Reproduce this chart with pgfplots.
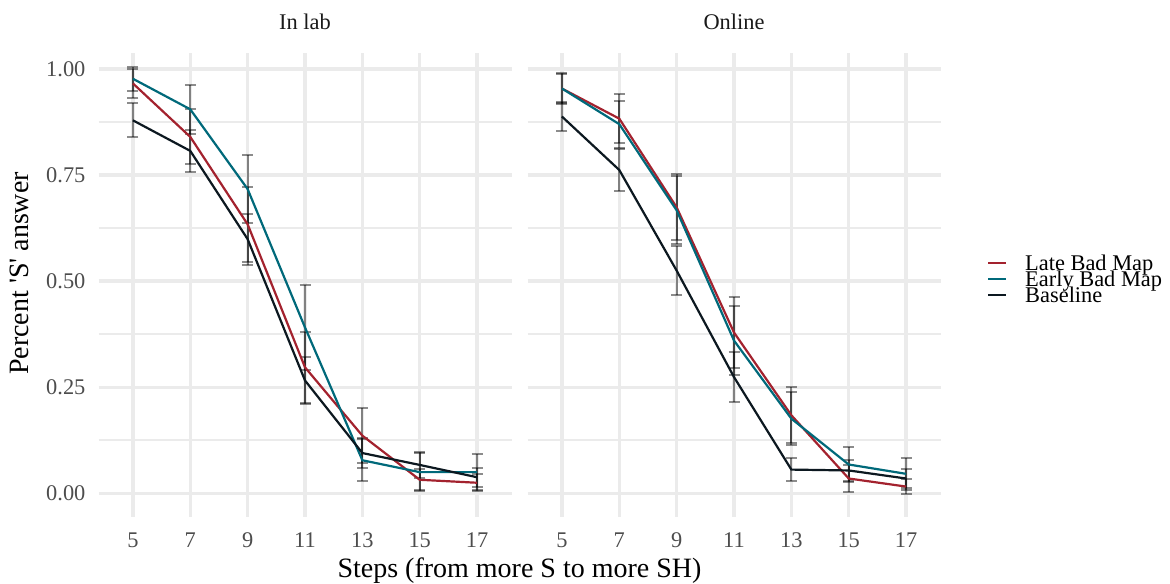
\documentclass[border=0pt]{standalone}
\usepackage{pgfplots}
\pgfplotsset{compat=1.18}
\usepackage{pgfplotstable}
\usepackage{fontspec}
\setmainfont{Liberation Serif}
\definecolor{latec}{HTML}{A3222E}
\definecolor{earlyc}{HTML}{00697A}
\definecolor{basec}{HTML}{0C1820}
\definecolor{gridc}{HTML}{EBEBEB}
\definecolor{tickc}{HTML}{4D4D4D}
\definecolor{stripc}{HTML}{1A1A1A}

\pgfplotstableread{
x  late  lateE early earlyE base  baseE
5  0.966 0.035 0.977 0.028  0.879 0.040
7  0.840 0.065 0.905 0.058  0.807 0.049
9  0.634 0.088 0.717 0.081  0.599 0.060
11 0.297 0.083 0.391 0.100  0.266 0.055
13 0.136 0.064 0.078 0.050  0.095 0.035
15 0.032 0.025 0.050 0.045  0.067 0.030
17 0.025 0.020 0.050 0.042  0.038 0.022
}\labdata

\pgfplotstableread{
x  late  lateE early earlyE base  baseE
5  0.954 0.036 0.954 0.034  0.888 0.035
7  0.883 0.057 0.870 0.055  0.762 0.050
9  0.674 0.078 0.667 0.080  0.525 0.057
11 0.379 0.083 0.360 0.082  0.274 0.058
13 0.184 0.066 0.176 0.062  0.056 0.027
15 0.035 0.032 0.068 0.042  0.054 0.025
17 0.016 0.018 0.046 0.037  0.035 0.023
}\onlinedata

\pgfplotsset{
  myax/.style={
    scale only axis, width=206.5pt, height=231.7pt,
    xmin=3.8, xmax=18.2, ymin=-0.055, ymax=1.037,
    axis line style={draw=none},
    xtick={5,7,9,11,13,15,17},
    ytick={0,0.25,0.5,0.75,1},
    minor ytick={0.125,0.375,0.625,0.875},
    xmajorgrids, ymajorgrids, yminorgrids,
    major grid style={draw=gridc, line width=1.7pt},
    minor grid style={draw=gridc, line width=0.85pt},
    major tick length=0pt, minor tick length=0pt,
    tick style={draw=none},
    /pgf/number format/assume math mode=true,
    ticklabel style={font=\fontsize{11.2}{13}\selectfont, text=tickc},
    xticklabel style={yshift=-4.3pt},
    yticklabel style={xshift=-3pt, /pgf/number format/.cd, fixed, fixed zerofill, precision=2},
    title style={at={(axis description cs:0.5,1)}, anchor=base, yshift=6pt,
      font=\fontsize{11.2}{13}\selectfont, text=stripc},
    legend image code/.code={\draw[#1, line width=1.1pt] (0pt,0pt) -- (9pt,0pt);},
  },
  ebar/.style={forget plot, draw=none, mark=none,
    error bars/.cd, y dir=both, y explicit, error mark=-,
    error bar style={line width=1pt, draw=black, opacity=0.45},
    error mark options={rotate=90, line width=1pt, mark size=2.75pt, draw=black, opacity=0.45}},
  ser/.style={line width=1.1pt, mark=none, draw=#1},
}

\begin{document}
\begin{tikzpicture}
\path[use as bounding box] (-49.25pt,-33.15pt) rectangle (535.75pt,258.35pt);

\begin{axis}[myax, title={In lab}]
\addplot[ebar] table[x=x, y=late, y error=lateE] {\labdata};
\addplot[ebar] table[x=x, y=early, y error=earlyE] {\labdata};
\addplot[ebar] table[x=x, y=base, y error=baseE] {\labdata};
\addplot[ser=latec] table[x=x, y=late] {\labdata};
\addplot[ser=earlyc] table[x=x, y=early] {\labdata};
\addplot[ser=basec] table[x=x, y=base] {\labdata};
\end{axis}

\begin{axis}[myax, at={(214.5pt,0pt)}, anchor=south west, title={Online},
  yticklabels={},
  legend style={at={(axis description cs:1.1126,0.5123)}, anchor=west,
    draw=none, fill=none, inner sep=0pt, outer sep=0pt,
    font=\fontsize{11.2}{13}\selectfont,
    nodes={inner sep=0pt, text height=7.7pt, text depth=0.3pt},
    row sep=0pt,
    /tikz/every odd column/.append style={column sep=9pt},
    cells={anchor=west}},
  legend cell align=left]
\addplot[ebar] table[x=x, y=late, y error=lateE] {\onlinedata};
\addplot[ebar] table[x=x, y=early, y error=earlyE] {\onlinedata};
\addplot[ebar] table[x=x, y=base, y error=baseE] {\onlinedata};
\addplot[ser=latec] table[x=x, y=late] {\onlinedata};
\addlegendentry{Late Bad Map}
\addplot[ser=earlyc] table[x=x, y=early] {\onlinedata};
\addlegendentry{Early Bad Map}
\addplot[ser=basec] table[x=x, y=base] {\onlinedata};
\addlegendentry{Baseline}
\end{axis}

\node[anchor=base, font=\fontsize{14}{16}\selectfont] at (210.5pt,-30.3pt) {Steps (from more S to more SH)};
\node[anchor=base, rotate=90, font=\fontsize{14}{16}\selectfont] at (-35.1pt,121.6pt) {Percent \textquotesingle S\textquotesingle{} answer};
\end{tikzpicture}
\end{document}
